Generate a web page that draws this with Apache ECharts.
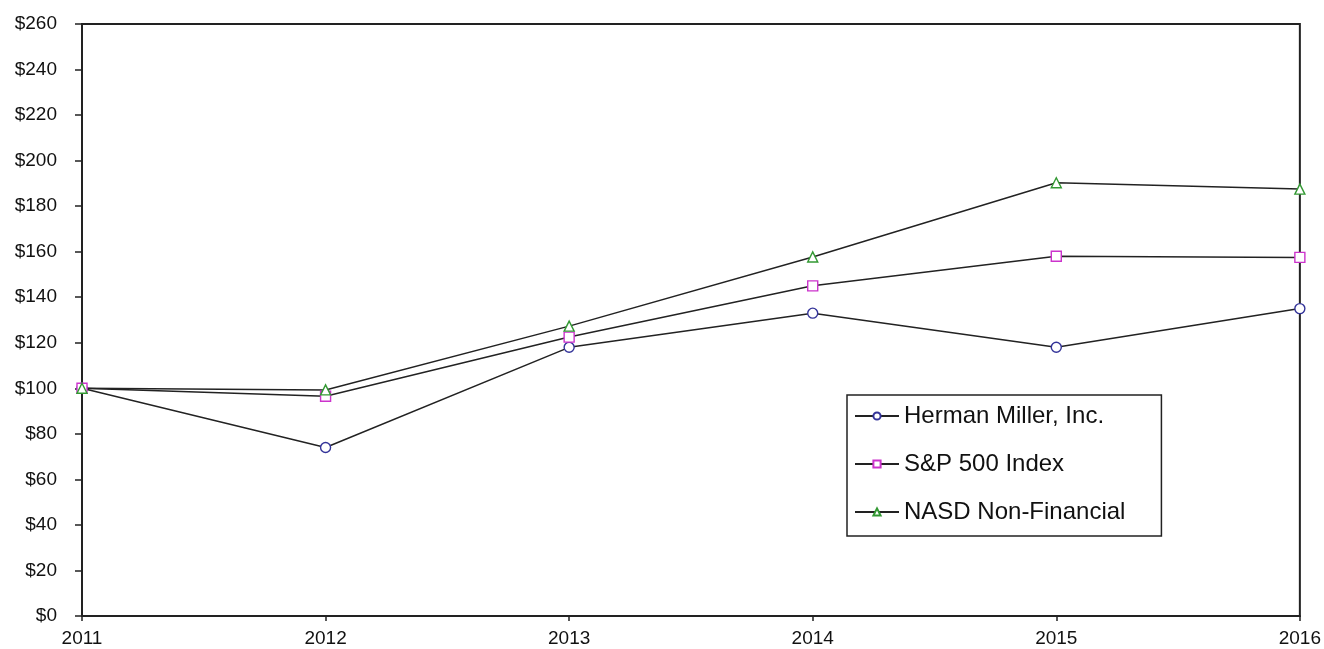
<!DOCTYPE html>
<html>
<head>
<meta charset="utf-8">
<script src="https://cdn.jsdelivr.net/npm/echarts@6/dist/echarts.min.js"></script>
<style>html,body{margin:0;padding:0;background:#fff}#c{width:1324px;height:649px}</style>
</head>
<body>
<div id="c"></div>
<script>
var years = ['2011','2012','2013','2014','2015','2016'];
var hermanMiller = [100, 74, 118, 133, 118, 135];
var sp500 = [100, 96.5, 122.5, 145, 158, 157.5];
var nasdNonFin = [100, 99.3, 127.3, 157.7, 190.3, 187.5];
var yTicks = [0, 20, 40, 60, 80, 100, 120, 140, 160, 180, 200, 220, 240, 260];

var chart = echarts.init(document.getElementById('c'));
var font = 'Liberation Sans, Arial, sans-serif';
function mk(name, data, symbol, color) {
  return {
    name: name, type: 'line', data: data, symbol: symbol, symbolSize: 10,
    showAllSymbol: true,
    lineStyle: {color: '#222', width: 1.5},
    itemStyle: {color: '#fff', borderColor: color, borderWidth: 1.4},
    emphasis: {disabled: true}, z: 3
  };
}
chart.setOption({
  animation: false,
  grid: {left: 82, right: 24, top: 24, bottom: 33, show: true, borderColor: '#222', borderWidth: 2, backgroundColor: 'transparent'},
  legend: {
    orient: 'vertical', left: 847, top: 395,
    padding: [9, 36, 12, 7],
    borderColor: '#222', borderWidth: 1.5,
    itemWidth: 44, itemHeight: 9, itemGap: 24,
    textStyle: {fontFamily: font, fontSize: 24, lineHeight: 24, color: '#111', padding: [0,0,0,0]},
    data: ['Herman Miller, Inc.', 'S&P 500 Index', 'NASD Non-Financial']
  },
  xAxis: {
    type: 'category', data: years, boundaryGap: false,
    axisLine: {lineStyle: {color: '#222', width: 2}},
    axisTick: {show: true, length: 5, lineStyle: {color: '#222', width: 1.5}},
    axisLabel: {fontFamily: font, fontSize: 19, color: '#111', margin: 13,
      alignMinLabel: 'center', alignMaxLabel: 'center'},
    splitLine: {show: false}
  },
  yAxis: {
    type: 'value', min: 0, max: 260, interval: 20,
    axisLine: {show: true, lineStyle: {color: '#222', width: 2}},
    axisTick: {show: true, length: 7, lineStyle: {color: '#222', width: 1.5}},
    axisLabel: {fontFamily: font, fontSize: 19, color: '#111', margin: 25,
      formatter: function (v) { return yTicks.indexOf(v) >= 0 ? '$' + v : ''; }},
    splitLine: {show: false}
  },
  series: [
    mk('Herman Miller, Inc.', hermanMiller, 'circle', '#333399'),
    mk('S&P 500 Index', sp500, 'rect', '#cc33cc'),
    mk('NASD Non-Financial', nasdNonFin, 'triangle', '#339933')
  ]
});
</script>
</body>
</html>
